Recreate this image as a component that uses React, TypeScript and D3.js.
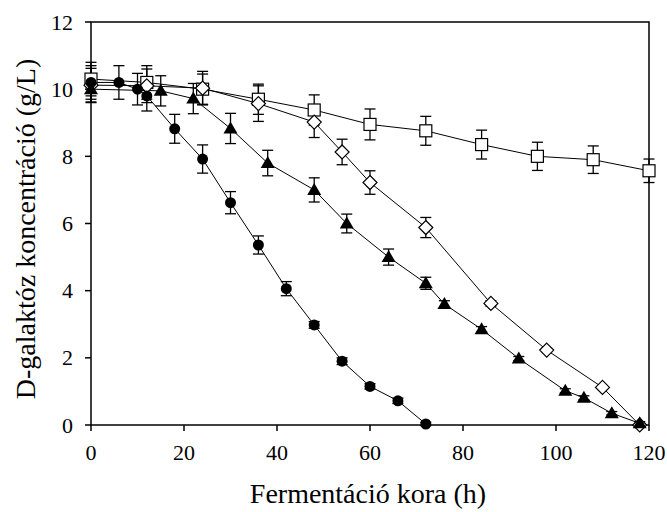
import React from "react";
import * as d3 from "d3";

const xTicks = [0, 20, 40, 60, 80, 100, 120];
const yTicks = [0, 2, 4, 6, 8, 10, 12];

const circleX = [0, 6, 10, 12, 18, 24, 30, 36, 42, 48, 54, 60, 66, 72];
const circleY = [10.2, 10.2, 10.0, 9.8, 8.82, 7.92, 6.62, 5.36, 4.06, 2.98, 1.9, 1.15, 0.72, 0.03];
const circleErr = [0.5, 0.5, 0.47, 0.45, 0.43, 0.42, 0.33, 0.27, 0.21, 0.1, 0.1, 0.08, 0.08, 0.05];

const triX = [0, 15, 22, 30, 38, 48, 55, 64, 72, 76, 84, 92, 102, 106, 112, 118];
const triY = [10.0, 9.95, 9.72, 8.83, 7.8, 7.0, 6.0, 5.0, 4.22, 3.6, 2.85, 1.98, 1.02, 0.81, 0.35, 0.05];
const triErr = [0.4, 0.45, 0.45, 0.45, 0.38, 0.36, 0.28, 0.24, 0.18, 0.1, 0.08, 0.06, 0.06, 0.06, 0.05, 0.05];

const diamondX = [0, 12, 24, 36, 48, 54, 60, 72, 86, 98, 110, 118];
const diamondY = [10.12, 10.1, 10.03, 9.57, 9.02, 8.13, 7.22, 5.88, 3.62, 2.23, 1.12, 0.0];
const diamondErr = [0.5, 0.5, 0.5, 0.53, 0.46, 0.38, 0.35, 0.3, 0.08, 0.05, 0.05, 0.05];

const squareX = [0, 12, 24, 36, 48, 60, 72, 84, 96, 108, 120];
const squareY = [10.3, 10.2, 10.0, 9.7, 9.38, 8.95, 8.76, 8.35, 8.0, 7.9, 7.57];
const squareErr = [0.5, 0.5, 0.45, 0.45, 0.45, 0.46, 0.43, 0.43, 0.42, 0.41, 0.35];

const xTitle = "Fermentáció kora (h)";
const yTitle = "D-galaktóz koncentráció (g/L)";

const W = 667;
const H = 512;
const left = 91;
const right = 649;
const top = 22;
const bottom = 425;

type Series = { xs: number[]; ys: number[]; err: number[]; kind: string };

const seriesList: Series[] = [
  { xs: squareX, ys: squareY, err: squareErr, kind: "square" },
  { xs: diamondX, ys: diamondY, err: diamondErr, kind: "diamond" },
  { xs: triX, ys: triY, err: triErr, kind: "triangle" },
  { xs: circleX, ys: circleY, err: circleErr, kind: "circle" },
];

export default function App() {
  const x = d3.scaleLinear().domain([0, 120]).range([left, right]);
  const y = d3.scaleLinear().domain([0, 12]).range([bottom, top]);
  const line = d3
    .line<[number, number]>()
    .x((d) => x(d[0]))
    .y((d) => y(d[1]));
  const font = "'Liberation Serif', 'Times New Roman', serif";

  const marker = (kind: string, cx: number, cy: number, key: string) => {
    if (kind === "circle") return <circle key={key} cx={cx} cy={cy} r={5.5} fill="#000" />;
    if (kind === "square")
      return <rect key={key} x={cx - 6} y={cy - 6} width={12} height={12} fill="#fff" stroke="#000" strokeWidth={1.2} />;
    if (kind === "diamond")
      return (
        <path
          key={key}
          d={`M${cx},${cy - 7}L${cx + 7},${cy}L${cx},${cy + 7}L${cx - 7},${cy}Z`}
          fill="#fff"
          stroke="#000"
          strokeWidth={1.2}
        />
      );
    return (
      <path
        key={key}
        d={`M${cx},${cy - 7}L${cx + 7},${cy + 5}L${cx - 7},${cy + 5}Z`}
        fill="#000"
      />
    );
  };

  return (
    <svg
      width={W}
      height={H}
      style={{ position: "absolute", left: 0, top: 0, background: "#fff" }}
      fontFamily={font}
    >
      <rect x={0} y={0} width={W} height={H} fill="#fff" />
      <rect x={left} y={top} width={right - left} height={bottom - top} fill="none" stroke="#000" strokeWidth={1.5} />
      {xTicks.map((t) => (
        <g key={"xt" + t}>
          <line x1={x(t)} x2={x(t)} y1={bottom} y2={bottom + 6} stroke="#000" strokeWidth={1.5} />
          <text x={x(t)} y={460} textAnchor="middle" fontSize={22} fill="#000">
            {t}
          </text>
        </g>
      ))}
      {yTicks.map((t) => (
        <g key={"yt" + t}>
          <line x1={left - 6} x2={left} y1={y(t)} y2={y(t)} stroke="#000" strokeWidth={1.5} />
          <text x={73} y={y(t) + 7.5} textAnchor="end" fontSize={22} fill="#000">
            {t}
          </text>
        </g>
      ))}
      {seriesList.map((s, i) => (
        <path
          key={"l" + i}
          d={line(s.xs.map((v, j) => [v, s.ys[j]] as [number, number])) || ""}
          fill="none"
          stroke="#000"
          strokeWidth={1}
        />
      ))}
      {seriesList.map((s, i) =>
        s.xs.map((v, j) => {
          const cx = x(v);
          const y1 = y(s.ys[j] + s.err[j]);
          const y2 = y(s.ys[j] - s.err[j]);
          return (
            <g key={"e" + i + "-" + j} stroke="#000" strokeWidth={1.3}>
              <line x1={cx} x2={cx} y1={y1} y2={y2} />
              <line x1={cx - 5.5} x2={cx + 5.5} y1={y1} y2={y1} />
              <line x1={cx - 5.5} x2={cx + 5.5} y1={y2} y2={y2} />
            </g>
          );
        })
      )}
      {seriesList.map((s, i) => s.xs.map((v, j) => marker(s.kind, x(v), y(s.ys[j]), "m" + i + "-" + j)))}
      <text x={368} y={503} textAnchor="middle" fontSize={28} fill="#000">
        {xTitle}
      </text>
      <text
        transform={`translate(35,229) rotate(-90)`}
        textAnchor="middle"
        fontSize={28}
        fill="#000"
      >
        {yTitle}
      </text>
    </svg>
  );
}
